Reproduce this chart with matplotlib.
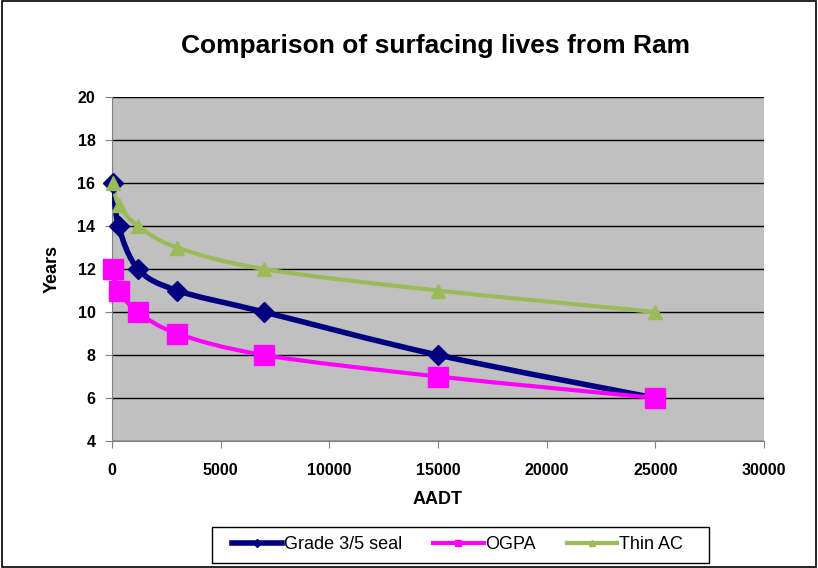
import numpy as np
import matplotlib.pyplot as plt
from matplotlib.path import Path
from matplotlib.patches import PathPatch, Rectangle

plt.rcParams['font.family'] = ['Liberation Sans', 'DejaVu Sans']

aadt = [50, 300, 1200, 3000, 7000, 15000, 25000]
grade_seal = [16, 14, 12, 11, 10, 8, 6]
ogpa = [12, 11, 10, 9, 8, 7, 6]
thin_ac = [16, 15, 14, 13, 12, 11, 10]

series = [
    ('Grade 3/5 seal', grade_seal, '#000080', 'D', 10, 4.0),
    ('OGPA', ogpa, '#FF00FF', 's', 14, 3.0),
    ('Thin AC', thin_ac, '#9BBB59', '^', 10, 3.0),
]


def smooth_path(x, y, sx, sy):
    # Excel-like smoothed line: cubic bezier through points (catmull-rom tangents)
    px = np.asarray(x, float) / sx
    py = np.asarray(y, float) / sy
    verts = [(px[0], py[0])]
    codes = [Path.MOVETO]
    n = len(px)
    for i in range(n - 1):
        p0 = np.array([px[max(i - 1, 0)], py[max(i - 1, 0)]])
        p1 = np.array([px[i], py[i]])
        p2 = np.array([px[i + 1], py[i + 1]])
        p3 = np.array([px[min(i + 2, n - 1)], py[min(i + 2, n - 1)]])
        c1 = p1 + (p2 - p0) / 6.0
        c2 = p2 - (p3 - p1) / 6.0
        verts += [tuple(c1), tuple(c2), tuple(p2)]
        codes += [Path.CURVE4] * 3
    verts = [(vx * sx, vy * sy) for vx, vy in verts]
    return Path(verts, codes)


fig = plt.figure(figsize=(8.18, 5.68), dpi=100)
ax = fig.add_axes([0.137, 0.2236, 0.797, 0.6054])
ax.set_facecolor('#C0C0C0')

sx = 30000 / 652.0
sy = 16 / 344.0
for name, vals, col, mk, ms, lw in series:
    patch = PathPatch(smooth_path(aadt, vals, sx, sy), facecolor='none',
                      edgecolor=col, lw=lw, zorder=3, capstyle='round')
    ax.add_patch(patch)
    ax.plot(aadt, vals, linestyle='none', marker=mk, color=col, ms=ms,
            zorder=4, clip_on=False)
    ax.plot([], [], color=col, lw=lw, marker=mk, ms=4, label=name)

ax.set_xlim(0, 30000)
ax.set_ylim(4, 20)
ax.set_xticks(np.arange(0, 30001, 5000))
ax.set_yticks(np.arange(4, 21, 2))
ax.grid(axis='y', color='black', lw=1)
ax.set_axisbelow(True)
for s in ['top', 'right']:
    ax.spines[s].set_visible(False)
for s in ['left', 'bottom']:
    ax.spines[s].set_color('#808080')
ax.tick_params(direction='out', length=5, color='#808080', labelsize=11.5)
ax.tick_params(axis='x', pad=11)
ax.tick_params(axis='y', pad=7)
for lab in ax.get_xticklabels() + ax.get_yticklabels():
    lab.set_fontweight('bold')

ax.set_xlabel('AADT', fontsize=13, fontweight='bold', labelpad=9)
ax.set_ylabel('Years', fontsize=13, fontweight='bold', labelpad=12)
fig.text(0.533, 0.919, 'Comparison of surfacing lives from Ram', ha='center',
         va='center', fontsize=19, fontweight='bold')

leg = fig.legend(loc='center', bbox_to_anchor=(0.559, 0.0405), ncol=3,
                 frameon=False, fontsize=13,
                 handlelength=2.8, handletextpad=0.1, columnspacing=1.7,
                 borderpad=0.35)

# legend frame, wider than the entries as in the original
fig.patches.append(Rectangle((212 / 818, 1 - 563 / 568), 497 / 818, 36 / 568,
                             transform=fig.transFigure, fill=False,
                             edgecolor='black', lw=1))
fig.patches.append(Rectangle((0.002, 0.002), 0.996, 0.996, transform=fig.transFigure,
                             fill=False, edgecolor='black', lw=1.2))

fig.savefig('out.png', dpi=100)
